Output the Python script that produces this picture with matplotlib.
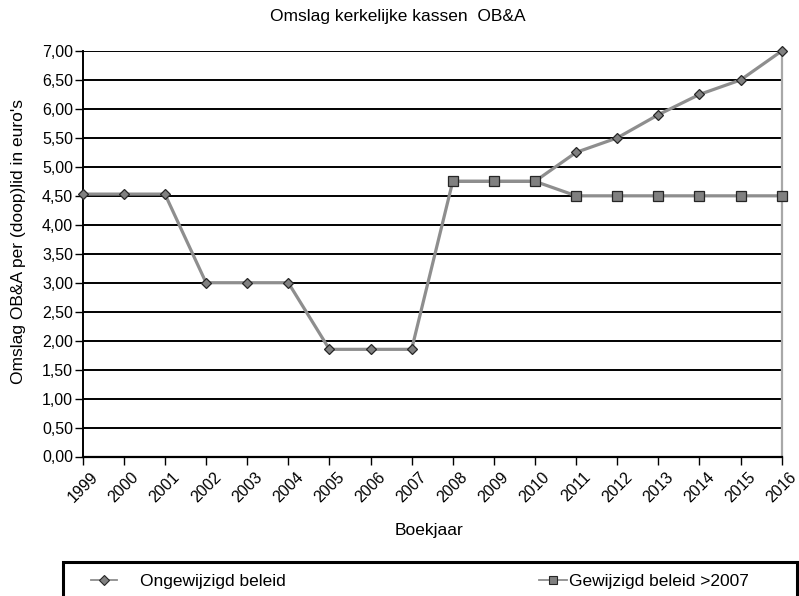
import matplotlib
matplotlib.use("Agg")
import matplotlib.pyplot as plt
from matplotlib.lines import Line2D
from matplotlib.patches import Rectangle
import numpy as np

plt.rcParams['font.family'] = ['Liberation Sans', 'DejaVu Sans']

years = [str(y) for y in range(1999, 2017)]
ongewijzigd = [4.53, 4.53, 4.53, 3.00, 3.00, 3.00, 1.85, 1.85, 1.85,
               4.75, 4.75, 4.75, 5.25, 5.50, 5.90, 6.25, 6.50, 7.00]
gewijzigd = [None] * 9 + [4.75, 4.75, 4.75, 4.50, 4.50, 4.50, 4.50, 4.50, 4.50]
yticks = np.arange(0, 7.01, 0.5)
ytick_labels = [f"{v:.2f}".replace('.', ',') for v in yticks]

W, H = 799, 596
fig = plt.figure(figsize=(W / 100, H / 100), dpi=100)
L, R, T, B = 82.7, 781.7, 51.0, 456.5
ax = fig.add_axes([L / W, 1 - B / H, (R - L) / W, (B - T) / H])

x = np.arange(len(years))
line_col = '#8e8e8e'
mk_col = '#808080'
ax.plot(x, ongewijzigd, color=line_col, lw=2.3, marker='D', ms=5.3,
        mfc=mk_col, mec='#262626', mew=0.9, zorder=3, clip_on=False)
g = np.array([np.nan if v is None else v for v in gewijzigd], dtype=float)
ax.plot(x, g, color=line_col, lw=2.3, marker='s', ms=7.0,
        mfc=mk_col, mec='#262626', mew=0.9, zorder=4, clip_on=False)

ax.set_xlim(0, len(years) - 1)
ax.set_ylim(0, 7.0)
ax.set_yticks(yticks)
ax.set_yticklabels(ytick_labels, fontsize=11.5)
ax.set_xticks(x)
ax.set_xticklabels(years, rotation=45, fontsize=11.5, ha='center', va='top')
ax.tick_params(axis='x', length=5.5, width=1, direction='out', pad=4)
ax.tick_params(axis='y', length=5.5, width=1, direction='out', pad=1.5)
ax.grid(axis='y', color='black', lw=1.4, zorder=1)
ax.set_axisbelow(True)
ax.spines['top'].set_visible(False)
ax.spines['right'].set_color('#a8a8a8')
ax.spines['right'].set_linewidth(1.6)
ax.spines['left'].set_linewidth(1.4)
ax.spines['bottom'].set_linewidth(1.6)

fig.text(398 / W, 1 - 16 / H, 'Omslag kerkelijke kassen  OB&A', ha='center', va='center', fontsize=12.5)
fig.text(429 / W, 1 - 530 / H, 'Boekjaar', ha='center', va='center', fontsize=12.5)
fig.text(19 / W, 1 - 242 / H, "Omslag OB&A per (doop)lid in euro's", ha='center', va='center',
         rotation=90, fontsize=12.5)

# legend frame
fig.patches.append(Rectangle((62.5 / W, -0.05), (797 - 62.5) / W, (596 - 562) / H + 0.05,
                             transform=fig.transFigure, fill=False, ec='black', lw=2.2))
h1 = Line2D([], [], color=line_col, lw=1.3, marker='D', ms=4.6, mfc=mk_col, mec='#262626', mew=0.8)
h2 = Line2D([], [], color=line_col, lw=1.3, marker='s', ms=6.3, mfc=mk_col, mec='#262626', mew=0.8)
fig.legend([h1], ['Ongewijzigd beleid'], loc='center left', bbox_to_anchor=(91 / W, 1 - 581 / H),
           frameon=False, fontsize=12.5, handlelength=1.5, handletextpad=1.3, borderpad=0, borderaxespad=0)
fig.legend([h2], ['Gewijzigd beleid >2007'], loc='center left', bbox_to_anchor=(539 / W, 1 - 581 / H),
           frameon=False, fontsize=12.5, handlelength=1.6, handletextpad=0.12, borderpad=0, borderaxespad=0)

fig.savefig('out.png', dpi=100)
